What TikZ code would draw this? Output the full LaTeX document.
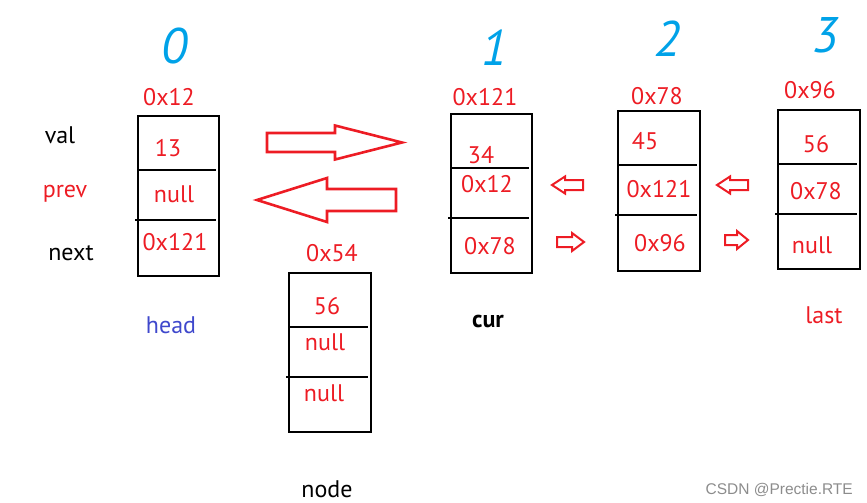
\documentclass[tikz,border=0pt]{standalone}
\usepackage{fontspec}
\setmainfont{PT Sans}
\newfontfamily\wmfont{Liberation Sans}
\usepackage{tikz}
\definecolor{ptred}{RGB}{237,28,36}
\definecolor{ptblue}{RGB}{0,162,232}
\definecolor{ptindigo}{RGB}{63,72,204}
\newcommand{\dlnode}[6]{%
  \draw[boxline] (#1,#2) rectangle (#3,#4);
  \draw[boxline] (#1,#5) -- (#3-3,#5);
  \draw[boxline] (#1-3,#6) -- (#3-3,#6);}
\newcommand{\blockarrow}[7]{%
  \draw[ptred, line width=#7, line join=miter] (#1,#4-#5) -- (#2,#4-#5) -- (#2,#4-#6) -- (#3,#4)
    -- (#2,#4+#6) -- (#2,#4+#5) -- (#1,#4+#5) -- cycle;}

\begin{document}
\begin{tikzpicture}[x=1pt, y=-1pt,
    boxline/.style={black, line width=2pt},
    lbl/.style={font=\fontsize{24}{28}\selectfont, text=ptred, anchor=base, inner sep=0pt},
    idx/.style={font=\fontsize{50}{54}\selectfont\itshape, text=ptblue, inner sep=0pt}]
  \useasboundingbox (0,0) rectangle (867,503);
  % index numbers
  \node[idx] (idx0) at (174,46) {0};
  \node[idx] (idx1) at (494,48) {1};
  \node[idx] (idx2) at (667,39) {2};
  \node[idx] (idx3) at (825,35) {3};
  % field names
  \node[lbl, text=black] (fval) at (60,143) {val};
  \node[lbl] (fprev) at (65,197) {prev};
  \node[lbl, text=black] (fnext) at (71,260) {next};
  % head
  \dlnode{138}{116}{219}{276}{170}{220}
  \node[lbl] (aHead) at (169,105) {0x12};
  \node[lbl] (vHead) at (168,156) {13};
  \node[lbl] (pHead) at (174,202) {null};
  \node[lbl] (nHead) at (175,250) {0x121};
  \node[lbl, text=ptindigo] (head) at (171,333) {head};
  % new node
  \dlnode{289}{273}{371}{432}{327}{377}
  \node[lbl] (aNode) at (332,261) {0x54};
  \node[lbl] (vNode) at (327,314) {56};
  \node[lbl] (pNode) at (325,350) {null};
  \node[lbl] (nNode) at (324,401) {null};
  \node[lbl, text=black] (node) at (327,497) {node};
  % cur
  \dlnode{451}{114}{532}{273}{168}{218}
  \node[lbl] (aCur) at (485,105) {0x121};
  \node[lbl] (vCur) at (481,163) {34};
  \node[lbl] (pCur) at (487,192) {0x12};
  \node[lbl] (nCur) at (490,254) {0x78};
  \node[lbl, text=black, font=\fontsize{24}{28}\selectfont\bfseries] (cur) at (488,327) {cur};
  % second
  \dlnode{618}{111}{700}{271}{165}{215}
  \node[lbl] (aTwo) at (657,104) {0x78};
  \node[lbl] (vTwo) at (645,149) {45};
  \node[lbl] (pTwo) at (659,197) {0x121};
  \node[lbl] (nTwo) at (660,251) {0x96};
  % last
  \dlnode{778}{110}{860}{269}{164}{214}
  \node[lbl] (aLast) at (810,98) {0x96};
  \node[lbl] (vLast) at (816,152) {56};
  \node[lbl] (pLast) at (816,199) {0x78};
  \node[lbl] (nLast) at (812,253) {null};
  \node[lbl] (last) at (824,323) {last};
  % arrows
  \blockarrow{267}{335}{402}{142.5}{9.5}{17}{2.6pt}
  \blockarrow{396}{327}{257}{200}{11}{22}{2.6pt}
  \blockarrow{583}{565}{552}{185}{5}{8.5}{2pt}
  \blockarrow{557}{572}{584}{242}{5}{9}{2pt}
  \blockarrow{748}{730}{717}{185}{5}{8.5}{2pt}
  \blockarrow{725}{737}{748}{240}{5}{9}{2pt}
  % watermark
  \node[font=\wmfont\fontsize{15.5}{18}\selectfont, text=black!45, anchor=base east, inner sep=0pt] (wm) at (853,494) {CSDN @Prectie.RTE};
\end{tikzpicture}
\end{document}
